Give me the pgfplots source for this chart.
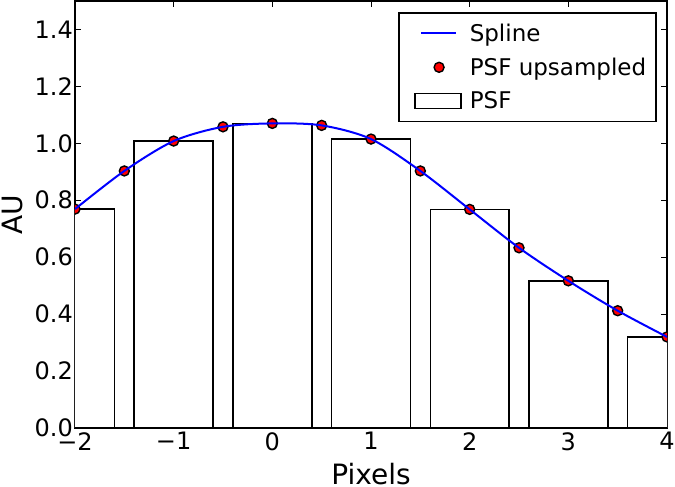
\documentclass[border=0pt]{standalone}
\usepackage{fontspec}
\setmainfont{DejaVu Sans}
\usepackage{pgfplots}
\pgfplotsset{compat=1.18}

\begin{document}
\begin{tikzpicture}
\begin{axis}[
  at={(0pt,0pt)}, anchor=south west,
  scale only axis,
  width=592pt, height=427pt,
  xmin=-2, xmax=4, ymin=0, ymax=1.5,
  xtick={-2,-1,0,1,2,3,4},
  xticklabels={−2,−1,0,1,2,3,4},
  ytick={0,0.2,0.4,0.6,0.8,1.0,1.2,1.4},
  yticklabels={0.0,0.2,0.4,0.6,0.8,1.0,1.2,1.4},
  tick align=inside,
  major tick length=6pt,
  tick style={black, line width=1pt},
  axis line style={line width=1.5pt},
  ticklabel style={font=\fontsize{24}{28}\selectfont},
  xticklabel style={inner ysep=4pt},
  yticklabel style={inner xsep=2pt},
  label style={font=\fontsize{28}{33}\selectfont},
  xlabel={Pixels},
  ylabel={AU},
  xlabel style={at={(axis description cs:0.5,-0.1325)}, anchor=base},
  ylabel style={at={(axis description cs:-0.0895,0.5)}, anchor=base},
  clip marker paths=true,
  legend style={at={(axis description cs:0.983,0.974)}, anchor=north east,
    draw=black, line width=1.5pt, font=\fontsize{23}{27}\selectfont,
    inner xsep=8pt, inner ysep=9pt, row sep=11pt, column sep=6pt},
  legend cell align=left,
]
% PSF (pixel values)
\addplot[ybar, bar width=0.8, bar shift=0pt, fill=white, draw=black, line width=1.4pt, forget plot]
  coordinates {(-2,0.769) (-1,1.008) (0,1.070) (1,1.015) (2,0.768) (3,0.517) (4,0.320)};
% PSF upsampled
\addplot[only marks, mark=*, mark size=5pt, mark options={fill=red, draw=black, line width=1.4pt}, forget plot]
  coordinates {(-2,0.769) (-1.5,0.903) (-1,1.008) (-0.5,1.058) (0,1.070) (0.5,1.063)
               (1,1.015) (1.5,0.903) (2,0.768) (2.5,0.633) (3,0.517) (3.5,0.412) (4,0.320)};
% Spline
\addplot[blue, line width=2pt, smooth, forget plot]
  coordinates {(-2,0.769) (-1.5,0.903) (-1,1.008) (-0.5,1.058) (0,1.070) (0.5,1.063)
               (1,1.015) (1.5,0.903) (2,0.768) (2.5,0.633) (3,0.517) (3.5,0.412) (4,0.320)};

\addlegendimage{legend image code/.code={
  \draw[draw=none] (-8pt,-7.5pt) -- (46pt,7.5pt);
  \draw[blue, line width=2pt] (6pt,0pt) -- (41pt,0pt);}}
\addlegendentry{Spline}
\addlegendimage{legend image code/.code={
  \draw[draw=none] (-8pt,-7.5pt) -- (46pt,7.5pt);
  \filldraw[fill=red, draw=black, line width=1.4pt] (24pt,0pt) circle (5pt);}}
\addlegendentry{PSF upsampled}
\addlegendimage{legend image code/.code={
  \draw[draw=none] (-8pt,-7.5pt) -- (46pt,7.5pt);
  \draw[black, fill=white, line width=1.4pt] (0pt,-7.5pt) rectangle (46pt,7.5pt);}}
\addlegendentry{PSF}
\end{axis}
\pgfresetboundingbox
\path[use as bounding box] (-75pt,-59pt) rectangle (600pt,428pt);
\end{tikzpicture}
\end{document}
